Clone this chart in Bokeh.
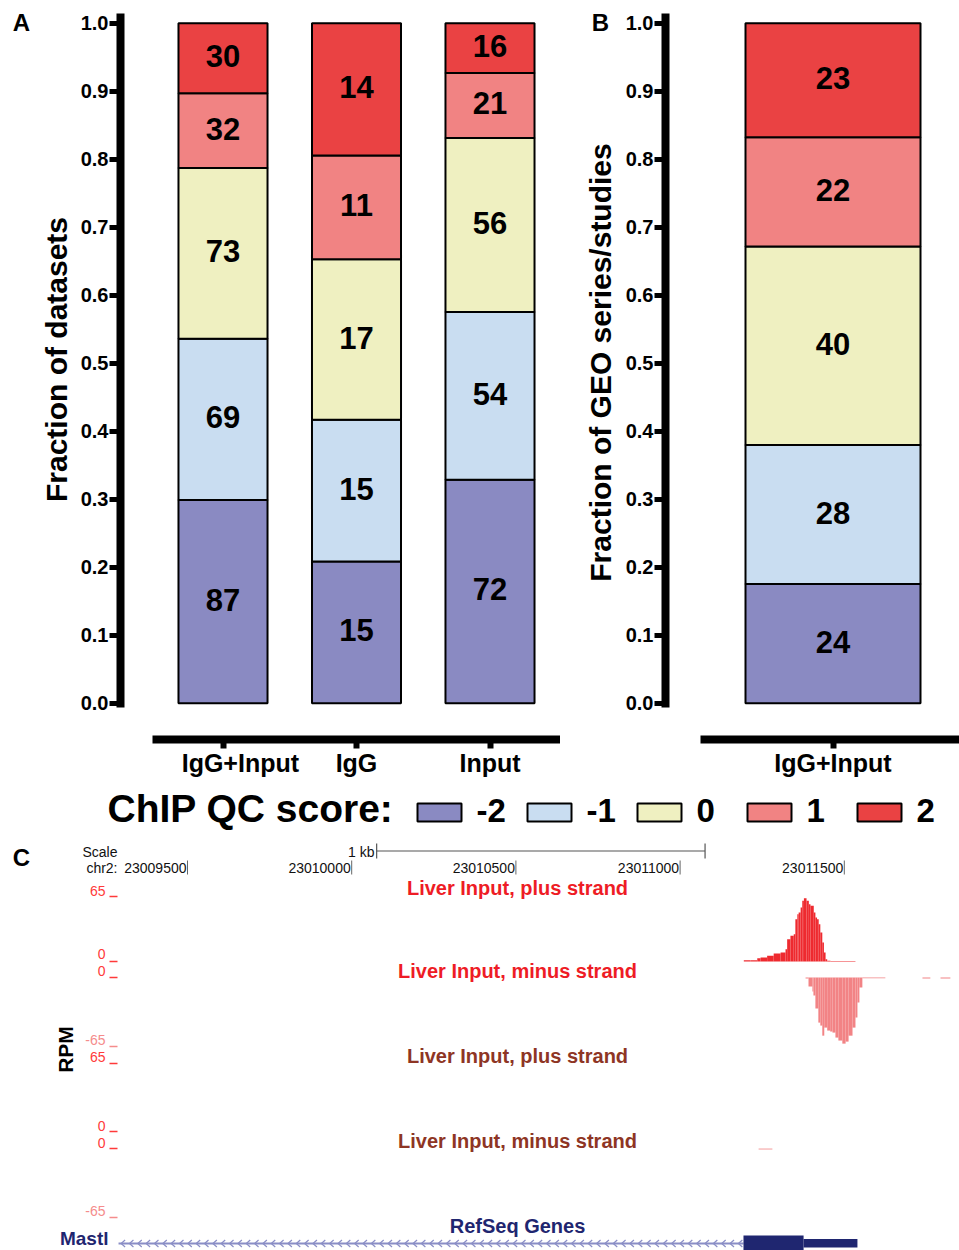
import numpy as np
from bokeh.core.properties import value
from bokeh.embed import file_html
from bokeh.layouts import column, row
from bokeh.models import ColumnDataSource, FixedTicker, PrintfTickFormatter, Range1d
from bokeh.plotting import figure
from bokeh.resources import INLINE

FONT = "Liberation Sans"

# ChIP QC score categories and fills
scores = ["-2", "-1", "0", "1", "2"]
score_colors = ["#8A8AC2", "#C9DDF1", "#EFF0C1", "#F18383", "#EA4243"]

# Panel A: datasets per control type
groups_a = ["IgG+Input", "IgG", "Input"]
counts_a = {
    "-2": [87, 15, 72],
    "-1": [69, 15, 54],
    "0": [73, 17, 56],
    "1": [32, 11, 21],
    "2": [30, 14, 16],
}

# Panel B: GEO series/studies
groups_b = ["IgG+Input"]
counts_b = {"-2": [24], "-1": [28], "0": [40], "1": [22], "2": [23]}

frac_ticks = [0.0, 0.1, 0.2, 0.3, 0.4, 0.5, 0.6, 0.7, 0.8, 0.9, 1.0]

# Panel C: browser view of chr2 around Mastl
chrom = "chr2"
view_start, view_end = 23009290, 23011850
ruler_ticks = [23009500, 23010000, 23010500, 23011000, 23011500]
scale_bar_start, scale_bar_len = 23010076, 1000
track_max = 65

# Liver Input, plus strand (first replicate), RPM per bin
plus_start = [23011194, 23011214, 23011235, 23011245, 23011265, 23011285, 23011306,
              23011321, 23011326, 23011336, 23011346, 23011351, 23011357, 23011361,
              23011367, 23011372, 23011377, 23011385, 23011392, 23011397, 23011407,
              23011412, 23011417, 23011422, 23011427, 23011433, 23011438, 23011443,
              23011448, 23011458]
plus_end = 23011534
plus_rpm = [1.3, 1.3, 3.3, 4.0, 5.7, 8.0, 9.0, 12.3, 22.3, 25.7, 27.3, 42.3, 47.3, 49.0,
            54.0, 60.7, 63.3, 60.7, 57.3, 55.7, 49.0, 44.0, 42.3, 37.3, 29.0, 19.0, 9.0,
            2.3, 0.7, 0.5]

# Liver Input, minus strand (first replicate)
minus_start = [23011382, 23011391, 23011403, 23011406, 23011412, 23011421, 23011427,
               23011433, 23011439, 23011448, 23011457, 23011464, 23011473, 23011482,
               23011494, 23011504, 23011513, 23011525, 23011534, 23011540, 23011546,
               23011555, 23011625, 23011738, 23011762, 23011793]
minus_end = 23011823
minus_rpm = [-1.0, -8.5, -13.2, -17.0, -29.3, -42.5, -45.3, -54.8, -47.2, -50.0, -50.9,
             -51.9, -56.6, -59.4, -62.3, -60.4, -54.8, -47.2, -37.7, -23.6, -9.4, -0.7,
             0.0, -1.0, 0.0, -1.0]

# Liver Input, minus strand (second replicate)
minus2_start = [23011239]
minus2_end = 23011281
minus2_rpm = [-1.0]

gene_name = "Mastl"
gene_cds = (23011193, 23011376)
gene_utr = (23011376, 23011540)

# Shared y geometry of the bar panels (figure height 785, frame 10..739 px)
Y0, Y1 = -0.0534, 1.0187
FRAME_TOP, FRAME_BOT = 10, 739


def stacked_panel(groups, counts, width, bar_center_px, px_per_unit, bar_width,
                  axis_px, x_axis_from_px, ylabel, ylabel_px, letter, letter_px,
                  tick_text=None):
    n = len(groups)
    xs = list(range(1, n + 1))

    def x_of(px):
        # horizontal pixel (within this figure) -> data x
        return 1 + (px - bar_center_px) / px_per_unit

    def y_of(py):
        return Y1 - (py - FRAME_TOP) * (Y1 - Y0) / (FRAME_BOT - FRAME_TOP)

    totals = [sum(counts[s][i] for s in scores) for i in range(n)]
    data = {"x": xs}
    for s in scores:
        data[s] = [counts[s][i] / totals[i] for i in range(n)]
    src = ColumnDataSource(data)

    p = figure(width=width, height=785, x_range=Range1d(x_of(0), x_of(width)),
               y_range=Range1d(Y0, Y1), output_backend="svg", toolbar_location=None,
               min_border_left=0, min_border_right=0, min_border_top=FRAME_TOP,
               min_border_bottom=785 - FRAME_BOT)
    p.vbar_stack(scores, x="x", width=bar_width, source=src, fill_color=score_colors,
                 line_color="black", line_width=2)

    lx, ly, lt = [], [], []
    for i in range(n):
        cum = 0.0
        for s in scores:
            f = counts[s][i] / totals[i]
            lx.append(xs[i])
            ly.append(cum + f / 2)
            lt.append(str(counts[s][i]))
            cum += f
    p.text(x=lx, y=ly, text=lt, text_align="center", text_baseline="middle",
           y_offset=-2, text_font=value(FONT), text_font_style="bold",
           text_font_size="31px", text_color="black")

    p.grid.visible = False
    p.outline_line_color = None

    ya = p.yaxis[0]
    ya.fixed_location = x_of(axis_px)
    ya.ticker = FixedTicker(ticks=frac_ticks)
    ya.formatter = PrintfTickFormatter(format="%.1f")
    ya.bounds = (-0.0063, 1.0143)
    ya.axis_line_width = 8
    ya.major_tick_line_width = 5
    ya.major_tick_out = 11
    ya.major_tick_in = 0
    ya.minor_tick_line_color = None
    ya.major_label_standoff = 1
    ya.major_label_text_font = FONT
    ya.major_label_text_font_style = "bold"
    ya.major_label_text_font_size = "20px"
    ya.major_label_text_color = "black"

    xa = p.xaxis[0]
    xa.ticker = FixedTicker(ticks=xs)
    xa.major_label_overrides = {x: g for x, g in zip(xs, tick_text or groups)}
    xa.bounds = (x_of(x_axis_from_px), x_of(width))
    xa.axis_line_width = 8
    xa.major_tick_line_width = 6
    xa.major_tick_out = 9
    xa.major_tick_in = 0
    xa.minor_tick_line_color = None
    xa.major_label_standoff = 0
    xa.major_label_text_font = FONT
    xa.major_label_text_font_style = "bold"
    xa.major_label_text_font_size = "25px"
    xa.major_label_text_color = "black"

    # y-axis title and panel letter
    p.text(x=[x_of(ylabel_px[0])], y=[y_of(ylabel_px[1])], text=[ylabel],
           angle=np.pi / 2, text_align="center", text_baseline="middle",
           text_font=value(FONT), text_font_style="bold", text_font_size="30px",
           text_color="black")
    p.text(x=[x_of(letter_px[0])], y=[y_of(letter_px[1])], text=[letter],
           text_align="center", text_baseline="middle", text_font=value(FONT),
           text_font_style="bold", text_font_size="24px", text_color="black")
    return p


# the first category label sits a little right of its tick
NBSP = "\u00a0"
pa = stacked_panel(groups_a, counts_a, 560, 222.5, 133.5, 0.667, 120, 152,
                   "Fraction of datasets", (56, 359), "A", (21, 22),
                   tick_text=[NBSP * 5 + groups_a[0]] + groups_a[1:])
pb = stacked_panel(groups_b, counts_b, 399, 272.5, 218.75, 0.8, 105, 140,
                   "Fraction of GEO series/studies", (40, 362), "B", (40, 22))

# Legend strip (page rows 785..835)
pl = figure(width=959, height=50, x_range=Range1d(0, 959), y_range=Range1d(835, 785),
            min_border=0, x_axis_location=None, y_axis_location=None,
            output_backend="svg", toolbar_location=None)
pl.grid.visible = False
pl.outline_line_color = None
sw_left = [417 + 110 * i for i in range(len(scores))]
pl.quad(left=sw_left, right=[x + 44 for x in sw_left], top=[803] * len(scores),
        bottom=[821] * len(scores), fill_color=score_colors, line_color="black",
        line_width=2)
pl.text(x=[x + 59 for x in sw_left], y=[810] * len(scores), text=scores,
        text_align="left", text_baseline="middle", text_font=value(FONT),
        text_font_style="bold", text_font_size="33px", text_color="black")
pl.text(x=[107], y=[808], text=["ChIP QC score:"], text_align="left",
        text_baseline="middle", text_font=value(FONT), text_font_style="bold",
        text_font_size="39px", text_color="black")

# Panel C: genome browser tracks
C_TOP, C_BOT = 835, 1250
bp_per_px = 1000 / 328.4
pc = figure(width=959, height=415,
            x_range=Range1d(ruler_ticks[0] - 187 * bp_per_px, ruler_ticks[0] + 772 * bp_per_px),
            y_range=Range1d(C_BOT, C_TOP), min_border=0, x_axis_location=None,
            y_axis_location=None, output_backend="svg", toolbar_location=None)
pc.grid.visible = False
pc.outline_line_color = None
pc.extra_x_ranges = {"px": Range1d(0, 959)}


def track_range(zero_y, full_y, full_val):
    # map a track's RPM values onto its band of rows in the panel
    k = full_val / (zero_y - full_y)
    return Range1d(start=(zero_y - C_BOT) * k, end=(zero_y - C_TOP) * k)


pc.extra_y_ranges = {
    "t1": track_range(961, 896, track_max),
    "t2": track_range(977, 1046, -track_max),
    "t3": track_range(1131, 1063, track_max),
    "t4": track_range(1148, 1217, -track_max),
}


def draw_signal(starts, end, vals, rng, color):
    rights = starts[1:] + [end]
    pc.quad(left=starts, right=rights, bottom=[0] * len(vals), top=vals,
            fill_color=color, line_color=None, y_range_name=rng)


draw_signal(plus_start, plus_end, plus_rpm, "t1", "#EE2A2F")
draw_signal(minus_start, minus_end, minus_rpm, "t2", "#F28385")
draw_signal(minus2_start, minus2_end, minus2_rpm, "t4", "#F4A0A0")

# ruler
txt = dict(text_font=value(FONT), text_baseline="middle")
pc.text(x=[117, 117], y=[851, 867], text=["Scale", chrom + ":"], text_align="right",
        text_font_size="14px", text_color="#111111", x_range_name="px", **txt)
pc.text(x=[374], y=[851], text=["1 kb"], text_align="right", text_font_size="14px",
        text_color="#111111", x_range_name="px", **txt)
sb_end = scale_bar_start + scale_bar_len
pc.segment(x0=[scale_bar_start, scale_bar_start, sb_end],
           y0=[850.5, 843, 843], x1=[sb_end, scale_bar_start, sb_end],
           y1=[850.5, 858, 858], line_color="#555555", line_width=1.2)
pc.text(x=[t - 3 for t in ruler_ticks], y=[867] * len(ruler_ticks),
        text=[str(t) for t in ruler_ticks], text_align="right", text_font_size="14px",
        text_color="#111111", **txt)
pc.segment(x0=ruler_ticks, x1=ruler_ticks, y0=[860] * len(ruler_ticks),
           y1=[874] * len(ruler_ticks), line_color="#666666", line_width=1)

# track titles and value scales
title_y = [887, 970, 1055, 1140]
title_col = ["#EE1C25", "#EE1C25", "#8E3524", "#8E3524"]
titles = ["Liver Input, plus strand", "Liver Input, minus strand",
          "Liver Input, plus strand", "Liver Input, minus strand"]
pc.text(x=[517] * 4, y=title_y, text=titles, text_align="center", text_font_size="20px",
        text_font_style="bold", text_color=title_col, x_range_name="px", **txt)

scale_txt = [str(track_max), "0", "0", str(-track_max), str(track_max), "0", "0", str(-track_max)]
scale_y = [890, 953, 970, 1039, 1056, 1125, 1142, 1210]
scale_col = ["#FF3A3A", "#FF3A3A", "#FF3A3A", "#F58C8C", "#FF3A3A", "#FF3A3A", "#FF3A3A", "#F58C8C"]
pc.text(x=[105] * 8, y=scale_y, text=scale_txt, text_align="right", text_font_size="14px",
        text_color=scale_col, x_range_name="px", **txt)
us_y = [896, 961, 977, 1046, 1063, 1131, 1148, 1217]
pc.segment(x0=[109] * 8, x1=[117] * 8, y0=us_y, y1=us_y, line_color=scale_col,
           line_width=1.3, x_range_name="px")

pc.text(x=[65], y=[1049], text=["RPM"], angle=np.pi / 2, text_align="center",
        text_font_size="21px", text_font_style="bold", text_color="black",
        x_range_name="px", **txt)
pc.text(x=[21], y=[857], text=["C"], text_align="center", text_font_size="24px",
        text_font_style="bold", text_color="black", x_range_name="px", **txt)

# RefSeq gene model
NAVY = "#1F2670"
pc.text(x=[517], y=[1225], text=["RefSeq Genes"], text_align="center",
        text_font_size="20px", text_font_style="bold", text_color=NAVY,
        x_range_name="px", **txt)
pc.text(x=[108], y=[1238], text=[gene_name], text_align="right", text_font_size="19px",
        text_font_style="bold", text_color=NAVY, x_range_name="px", **txt)
pc.segment(x0=[view_start], x1=[gene_cds[0]], y0=[1243], y1=[1243],
           line_color="#8A8EC6", line_width=2)
chev = np.arange(view_start + 8, gene_cds[0] - 10, 25.4)
pc.multi_line(xs=[[c + 12, c, c + 12] for c in chev],
              ys=[[1239.5, 1243, 1246.5] for _ in chev],
              line_color="#8A8EC6", line_width=1.2)
pc.quad(left=[gene_cds[0]], right=[gene_cds[1]], top=[1235], bottom=[1251],
        fill_color=NAVY, line_color=None)
pc.quad(left=[gene_utr[0]], right=[gene_utr[1]], top=[1238.5], bottom=[1247],
        fill_color=NAVY, line_color=None)

layout = column(row(pa, pb), pl, pc)
open("out.html", "w").write(file_html(layout, INLINE))
